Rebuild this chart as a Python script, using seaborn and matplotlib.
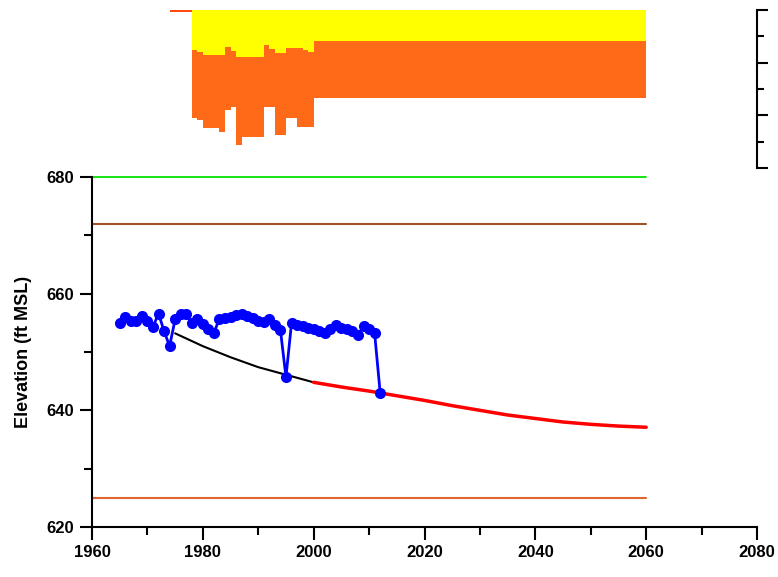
import matplotlib
matplotlib.use("Agg")
import matplotlib.pyplot as plt
from matplotlib.ticker import MultipleLocator, NullFormatter
import seaborn as sns
import pandas as pd
import numpy as np

sns.set_style("white")
plt.rcParams['font.family'] = ['Liberation Sans', 'DejaVu Sans']
plt.rcParams['text.color'] = 'black'
plt.rcParams['axes.labelcolor'] = 'black'
plt.rcParams['xtick.color'] = 'black'
plt.rcParams['ytick.color'] = 'black'

# observed lake elevation (ft MSL)
obs_years = list(range(1965, 2013))
obs_elev = [654.9, 656.0, 655.3, 655.4, 656.2, 655.3, 654.3, 656.6, 653.6, 651.0,
            655.6, 656.5, 656.6, 654.9, 655.7, 654.8, 654.0, 653.3, 655.7, 655.8,
            656.0, 656.3, 656.5, 656.1, 655.9, 655.4, 655.2, 655.6, 654.6, 653.8,
            645.7, 654.9, 654.6, 654.5, 654.2, 653.9, 653.6, 653.3, 654.0, 654.6,
            654.2, 654.0, 653.6, 653.0, 654.4, 653.9, 653.2, 643.0]

# simulated trend
sim_years = [1975, 1980, 1985, 1990, 1995, 2000]
sim_elev = [653.2, 651.0, 649.1, 647.4, 646.1, 644.8]

# projection
proj_years = [2000, 2005, 2010, 2015, 2020, 2025, 2030, 2035, 2040, 2045, 2050, 2055, 2060]
proj_elev = [644.8, 644.0, 643.3, 642.5, 641.7, 640.8, 640.0, 639.2, 638.6, 638.0, 637.6, 637.3, 637.1]

# reference levels
ref_years = [1960, 2060]
level_top = 680
level_mid = 672
level_low = 625

# top panel: stacked bars hanging from the top
bar_years = list(range(1978, 2060))
early_yellow = [38.0, 39.6, 42.7, 42.7, 42.7, 42.7, 34.8, 39.0, 44.3, 44.3,
                44.3, 44.3, 44.3, 33.2, 37.0, 41.1, 41.1, 36.4, 36.4, 36.4,
                38.0, 39.6]
early_total = [102.9, 104.5, 111.8, 111.8, 111.8, 115.5, 95.0, 91.8, 128.2, 120.3,
               120.3, 120.3, 120.3, 91.8, 91.8, 118.7, 118.7, 102.9, 102.9, 110.8,
               110.8, 110.8]
late_yellow = 29.1
late_total = 83.9
yellow_depth = early_yellow + [late_yellow] * (len(bar_years) - len(early_yellow))
total_depth = early_total + [late_total] * (len(bar_years) - len(early_total))
orange_depth = [t - y for t, y in zip(total_depth, yellow_depth)]
pre_years = [1974, 1975, 1976, 1977]
pre_depth = [1.5, 1.5, 1.5, 1.5]

fig = plt.figure(figsize=(7.78, 5.77), dpi=100)

# ---- top panel
ax_top = fig.add_axes([92/778, 1 - 168/577, 665/778, 158/577])
ax_top.bar(pre_years, pre_depth, width=1, align='edge', color='#FF4A10', linewidth=0)
ax_top.bar(bar_years, yellow_depth, width=1, align='edge', color='#FFFF00', linewidth=0)
ax_top.bar(bar_years, orange_depth, bottom=yellow_depth, width=1, align='edge',
           color='#FF6A18', linewidth=0)
ax_top.set_xlim(1960, 2080)
ax_top.set_ylim(150, 0)
ax_top.set_xticks([])
for s in ['left', 'top', 'bottom']:
    ax_top.spines[s].set_visible(False)
ax_top.spines['right'].set_linewidth(1.5)
ax_top.spines['right'].set_color('black')
ax_top.yaxis.tick_right()
ax_top.yaxis.set_major_locator(MultipleLocator(50))
ax_top.yaxis.set_minor_locator(MultipleLocator(25))
ax_top.yaxis.set_major_formatter(NullFormatter())
ax_top.tick_params(axis='y', which='major', direction='out', length=8, width=1.5, right=True)
ax_top.tick_params(axis='y', which='minor', direction='out', length=5, width=1.5, right=True)
ax_top.patch.set_alpha(0)

# ---- main panel
ax = fig.add_axes([92/778, 50/577, 665/778, 350/577])
sns.lineplot(x=ref_years, y=[level_top] * 2, color='#00E400', linewidth=1.3, ax=ax)
ax.lines[-1].set_clip_on(False)
sns.lineplot(x=ref_years, y=[level_mid] * 2, color='#A0522D', linewidth=1.5, ax=ax)
sns.lineplot(x=ref_years, y=[level_low] * 2, color='#E0642E', linewidth=1.5, ax=ax)
sns.lineplot(x=sim_years, y=sim_elev, color='black', linewidth=1.5, ax=ax)
sns.lineplot(x=proj_years, y=proj_elev, color='#FF0000', linewidth=2.5, ax=ax)
sns.lineplot(x=obs_years, y=obs_elev, color='#0000FF', linewidth=2, marker='o',
             markersize=8, markeredgewidth=0, ax=ax)

ax.set_xlim(1960, 2080)
ax.set_ylim(620, 680)
ax.xaxis.set_major_locator(MultipleLocator(20))
ax.xaxis.set_minor_locator(MultipleLocator(10))
ax.yaxis.set_major_locator(MultipleLocator(20))
ax.yaxis.set_minor_locator(MultipleLocator(10))
for s in ['top', 'right']:
    ax.spines[s].set_visible(False)
for s in ['left', 'bottom']:
    ax.spines[s].set_linewidth(1.5)
    ax.spines[s].set_color('black')
ax.tick_params(which='major', direction='out', length=9, width=1.5, labelsize=12, pad=4,
               bottom=True, left=True)
ax.tick_params(which='minor', direction='out', length=6, width=1.5, bottom=True, left=True)
for lbl in ax.get_xticklabels() + ax.get_yticklabels():
    lbl.set_fontweight('bold')
ax.set_xlabel('')
ax.set_ylabel('Elevation (ft MSL)', fontsize=13, fontweight='bold', labelpad=10)
ax.patch.set_alpha(0)

plt.savefig('out.png', dpi=100)
